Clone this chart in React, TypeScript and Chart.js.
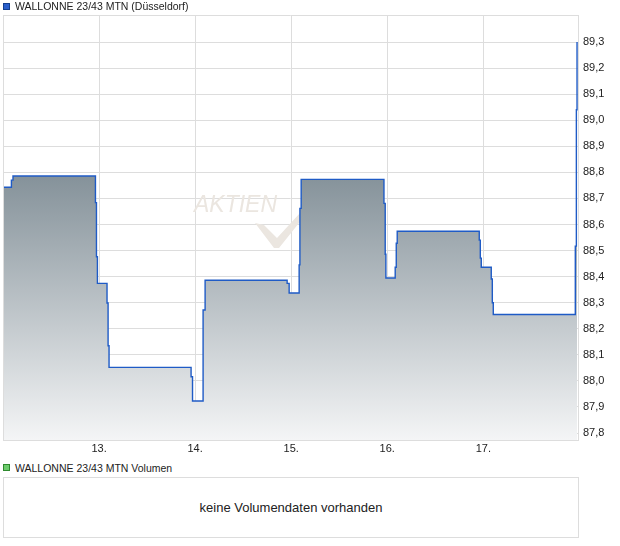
import React, { useEffect, useRef } from "react";
import { Chart, registerables } from "chart.js";

Chart.register(...registerables);

const TITLE = "WALLONNE 23/43 MTN (Düsseldorf)";
const VOLUME_TITLE = "WALLONNE 23/43 MTN Volumen";
const NO_VOLUME = "keine Volumendaten vorhanden";

// x values: day of month (fractional, intraday)
const times = [
  12.0, 12.0875, 12.104, 12.9625, 12.973, 12.983, 13.083, 13.094, 13.104,
  13.958, 13.973, 14.083, 14.104, 14.958, 14.979, 15.083, 15.091, 15.104,
  15.966, 15.979, 15.986, 16.083, 16.094, 16.104, 16.958, 16.969, 16.979,
  17.083, 17.094, 17.104, 17.958, 17.969, 17.976,
];
const prices = [
  88.743, 88.77, 88.786, 88.684, 88.476, 88.374, 88.299, 88.135, 88.052,
  88.016, 87.923, 88.272, 88.386, 88.374, 88.337, 88.445, 88.662, 88.773,
  88.681, 88.486, 88.395, 88.436, 88.528, 88.574, 88.54, 88.471, 88.436,
  88.391, 88.3, 88.255, 88.517, 89.04, 89.3,
];

const X_MIN = 12;
const X_MAX = 17.986;
const Y_MIN = 87.7733;
const Y_MAX = 89.4036;
const WATERMARK = "AKTIEN";

const FONT = 'Arial, "Liberation Sans", sans-serif';
const GRID = "#dddddd";

const framePlugin = {
  id: "frame",
  beforeDatasetsDraw(chart: any) {
    const { ctx } = chart;
    ctx.save();
    // watermark
    ctx.fillStyle = "#ebe6e0";
    ctx.font = "italic 23px " + FONT;
    ctx.textBaseline = "alphabetic";
    ctx.fillText(WATERMARK, 194, 212);
    ctx.beginPath();
    ctx.moveTo(255, 223);
    ctx.lineTo(264, 225);
    ctx.lineTo(277, 238);
    ctx.lineTo(300, 213);
    ctx.lineTo(303, 218);
    ctx.lineTo(279, 248);
    ctx.lineTo(274, 248);
    ctx.closePath();
    ctx.fill();
    ctx.restore();
  },
  afterDraw(chart: any) {
    const { ctx, chartArea } = chart;
    ctx.save();
    ctx.strokeStyle = GRID;
    ctx.lineWidth = 1;
    ctx.beginPath();
    ctx.moveTo(chartArea.left + 0.5, chartArea.bottom);
    ctx.lineTo(chartArea.left + 0.5, chartArea.top + 0.5);
    ctx.lineTo(chartArea.right, chartArea.top + 0.5);
    ctx.stroke();
    ctx.restore();
  },
};

function PriceChart() {
  const ref = useRef<HTMLCanvasElement>(null);
  useEffect(() => {
    if (!ref.current) return;
    const chart = new Chart(ref.current, {
      type: "line",
      data: {
        datasets: [
          {
            label: TITLE,
            data: times.map((t, i) => ({ x: t, y: prices[i] })),
            borderColor: "#1f5bc6",
            borderWidth: 1.4,
            pointRadius: 0,
            stepped: true,
            fill: "start",
            backgroundColor: (c: any) => {
              const { chart } = c;
              const area = chart.chartArea;
              if (!area) return "#b0b8be";
              const g = chart.ctx.createLinearGradient(0, 176, 0, area.bottom);
              g.addColorStop(0, "#85929a");
              g.addColorStop(1, "#f4f5f6");
              return g;
            },
          },
        ],
      },
      options: {
        responsive: false,
        animation: false,
        layout: { padding: { left: 3, top: 15, right: 0, bottom: 0 } },
        plugins: { legend: { display: false }, tooltip: { enabled: false } },
        scales: {
          x: {
            type: "linear",
            min: X_MIN,
            max: X_MAX,
            afterFit: (s: any) => {
              s.height = 20;
            },
            grid: { color: GRID, drawTicks: false },
            border: { color: GRID },
            ticks: {
              stepSize: 1,
              includeBounds: false,
              padding: 2,
              color: "#222",
              font: { family: FONT, size: 11 },
              maxRotation: 0,
              callback: (v: any) => (v < 12.5 ? "" : `${Math.round(v)}.`),
            },
          },
          y: {
            position: "right",
            min: Y_MIN,
            max: Y_MAX,
            afterFit: (s: any) => {
              s.width = 42;
            },
            afterBuildTicks: (s: any) => {
              s.ticks = s.ticks.filter((t: any) => t.value < 89.35);
            },
            grid: { color: GRID, drawTicks: false },
            border: { color: GRID },
            ticks: {
              stepSize: 0.1,
              includeBounds: false,
              padding: 5,
              color: "#222",
              font: { family: FONT, size: 11 },
              callback: (v: any) => Number(v).toFixed(1).replace(".", ","),
            },
          },
        },
      },
      plugins: [framePlugin],
    } as any);
    return () => chart.destroy();
  }, []);
  return (
    <canvas
      ref={ref}
      width={620}
      height={460}
      style={{ position: "absolute", left: 0, top: 0, width: 620, height: 460 }}
    />
  );
}

export default function App() {
  const legendText: React.CSSProperties = {
    position: "absolute",
    fontFamily: FONT,
    fontSize: 10.5,
    lineHeight: "12px",
    color: "#222",
    whiteSpace: "nowrap",
  };
  return (
    <div
      style={{
        position: "absolute",
        left: 0,
        top: 0,
        width: 620,
        height: 546,
        background: "#fff",
        overflow: "hidden",
      }}
    >
      <PriceChart />
      <div
        style={{
          position: "absolute",
          left: 3,
          top: 3,
          width: 7,
          height: 7,
          boxSizing: "border-box",
          background: "#2a5fcc",
          border: "1px solid #143f8f",
        }}
      />
      <div style={{ ...legendText, left: 15, top: 0 }}>{TITLE}</div>
      <div
        style={{
          position: "absolute",
          left: 3,
          top: 464,
          width: 7,
          height: 7,
          boxSizing: "border-box",
          background: "#6dcc6d",
          border: "1px solid #2f8a2f",
        }}
      />
      <div style={{ ...legendText, left: 15, top: 462 }}>{VOLUME_TITLE}</div>
      <div
        style={{
          position: "absolute",
          left: 3,
          top: 477,
          width: 576,
          height: 61,
          boxSizing: "border-box",
          border: "1px solid #dddddd",
          display: "flex",
          alignItems: "center",
          justifyContent: "center",
          fontFamily: FONT,
          fontSize: 13,
          color: "#222",
        }}
      >
        {NO_VOLUME}
      </div>
    </div>
  );
}
